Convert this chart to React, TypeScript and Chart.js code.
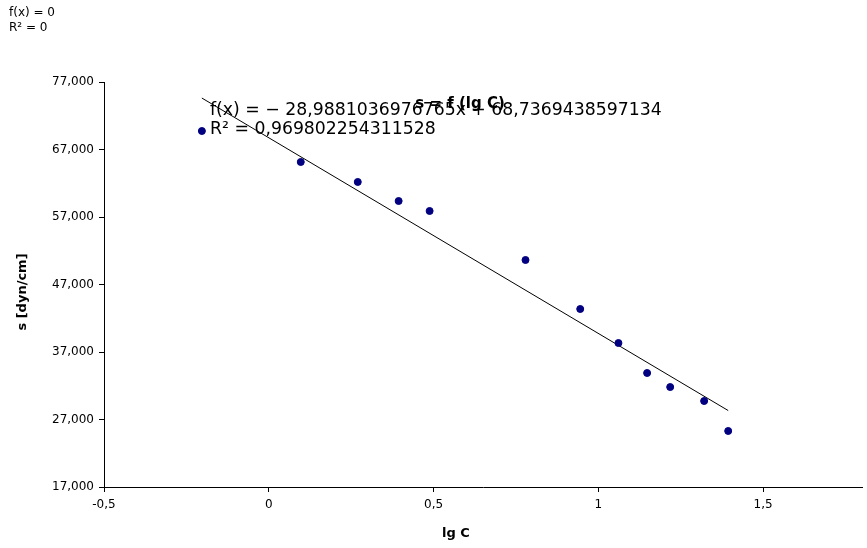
import { useEffect, useRef } from "react";
import { Chart, registerables } from "chart.js";

Chart.register(...registerables);

const lgC = [-0.203, 0.097, 0.27, 0.394, 0.488, 0.779, 0.945, 1.061, 1.148, 1.218, 1.321, 1.394];
const surfaceTension = [69.74, 65.15, 62.19, 59.37, 57.89, 50.63, 43.37, 38.33, 33.89, 31.81, 29.74, 25.3];
const xTicks = [-0.5, 0, 0.5, 1, 1.5];
const yTicks = [17, 27, 37, 47, 57, 67, 77];
const trendSlope = -28.9881036976765;
const trendIntercept = 68.7369438597134;
const chartTitle = "s = f (lg C)";
const xTitle = "lg C";
const yTitle = "s [dyn/cm]";
const equationText = "f(x) = − 28,9881036976765x + 68,7369438597134";
const r2Text = "R² = 0,969802254311528";
const legendLines = ["f(x) = 0", "R² = 0"];

const FONT = "'DejaVu Sans', sans-serif";

export default function App() {
  const ref = useRef<HTMLCanvasElement | null>(null);

  useEffect(() => {
    if (!ref.current) return;
    const xMin = Math.min(...lgC);
    const xMax = Math.max(...lgC);
    const trend = [xMin, xMax].map((x) => ({ x, y: trendSlope * x + trendIntercept }));

    const textPlugin = {
      id: "texts",
      afterDraw(chart: any) {
        const ctx = chart.ctx as CanvasRenderingContext2D;
        ctx.save();
        ctx.fillStyle = "#000";
        ctx.textBaseline = "middle";
        ctx.textAlign = "left";
        ctx.font = `12px ${FONT}`;
        legendLines.forEach((t, i) => ctx.fillText(t, 9, 13 + i * 15));

        ctx.textAlign = "center";
        ctx.font = `bold 15px ${FONT}`;
        ctx.fillText(chartTitle, 460, 104);

        ctx.textAlign = "left";
        ctx.font = `17.3px ${FONT}`;
        ctx.fillText(equationText, 210, 111);
        ctx.fillText(r2Text, 210, 130);

        ctx.textAlign = "center";
        ctx.font = `bold 13px ${FONT}`;
        ctx.fillText(xTitle, 456, 534);

        ctx.translate(23, 292);
        ctx.rotate(-Math.PI / 2);
        ctx.font = `bold 13px ${FONT}`;
        ctx.fillText(yTitle, 0, 0);
        ctx.restore();
      },
    };

    const chart = new Chart(ref.current, {
      type: "scatter",
      data: {
        datasets: [
          {
            label: "points",
            data: lgC.map((x, i) => ({ x, y: surfaceTension[i] })),
            backgroundColor: "#000080",
            borderColor: "#000080",
            pointRadius: 3.5,
            pointHoverRadius: 3.5,
            showLine: false,
          },
          {
            label: "trend",
            data: trend,
            showLine: true,
            borderColor: "#000",
            borderWidth: 1,
            pointRadius: 0,
            pointHoverRadius: 0,
            fill: false,
          } as any,
        ],
      },
      plugins: [textPlugin],
      options: {
        responsive: false,
        animation: false,
        events: [],
        layout: { padding: { top: 82, right: 5, left: 0, bottom: 0 } },
        plugins: {
          legend: { display: false },
          tooltip: { enabled: false },
          title: { display: false },
        },
        scales: {
          x: {
            type: "linear",
            min: -0.5,
            max: 1.8,
            afterBuildTicks: (scale: any) => {
              scale.ticks = xTicks.map((v) => ({ value: v }));
            },
            afterFit: (scale: any) => {
              scale.height = 61;
            },
            grid: {
              drawOnChartArea: false,
              drawTicks: true,
              tickLength: 5,
              tickColor: "#000",
            },
            border: { display: true, color: "#000", width: 1 },
            ticks: {
              color: "#000",
              font: { family: FONT, size: 12 },
              padding: 6,
              maxRotation: 0,
              callback: (v: any) => String(v).replace(".", ","),
            },
          },
          y: {
            type: "linear",
            min: 17,
            max: 77,
            afterBuildTicks: (scale: any) => {
              scale.ticks = yTicks.map((v) => ({ value: v }));
            },
            afterFit: (scale: any) => {
              scale.width = 104;
            },
            grid: {
              drawOnChartArea: false,
              drawTicks: true,
              tickLength: 5,
              tickColor: "#000",
            },
            border: { display: true, color: "#000", width: 1 },
            ticks: {
              color: "#000",
              font: { family: FONT, size: 12 },
              padding: 5,
              callback: (v: any) => Number(v).toFixed(3).replace(".", ","),
            },
          },
        },
      },
    });
    return () => chart.destroy();
  }, []);

  return (
    <div style={{ position: "fixed", left: 0, top: 0, width: 867, height: 548, background: "#fff" }}>
      <canvas ref={ref} width={867} height={548} style={{ width: 867, height: 548, display: "block" }} />
    </div>
  );
}
